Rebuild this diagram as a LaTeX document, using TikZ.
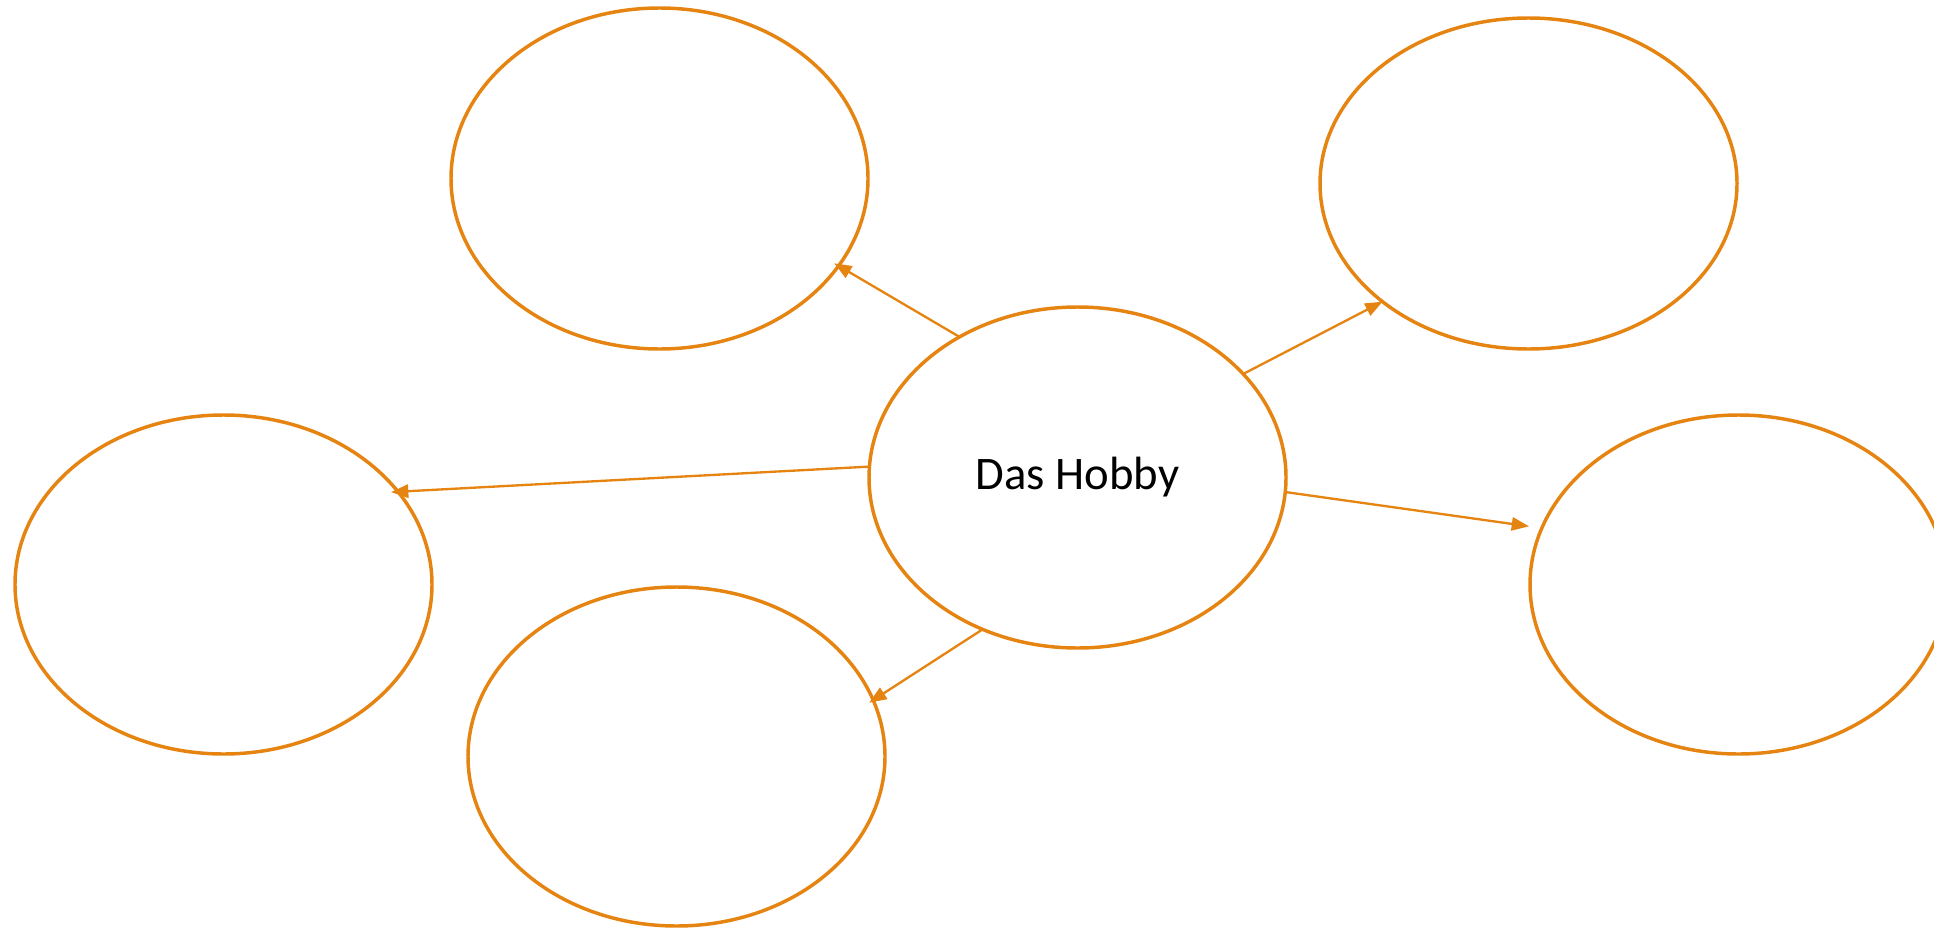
\documentclass[tikz,border=0pt]{standalone}
\usepackage{fontspec}
\setmainfont{Carlito}
\usepackage{xcolor}
\usepackage{tikz}
\usetikzlibrary{shapes.geometric,arrows.meta}
\definecolor{hobbyorange}{RGB}{230,132,18}
\tikzset{
  bubble/.style={ellipse,draw=hobbyorange,line width=2.6pt,inner sep=0pt,outer sep=0pt,
    minimum width=312.75pt,minimum height=255.75pt},
  link/.style={draw=hobbyorange,line width=1.75pt,-{Triangle[length=13pt,width=10pt]}}
}

\begin{document}
\begin{tikzpicture}[x=0.75pt,y=0.75pt,yscale=-1,xscale=1]
\useasboundingbox (0,0) rectangle (1934,928);

%Shape: Ellipse [hub]
\node[bubble,font=\fontsize{35pt}{42pt}\selectfont] (hub) at (1077.5,477.5) {Das Hobby};
%Shape: Ellipse [top left]
\node[bubble] (topleft) at (659.5,178.5) {};
%Shape: Ellipse [top right]
\node[bubble,minimum height=248.25pt] (topright) at (1528.5,183.5) {};
%Shape: Ellipse [left]
\node[bubble,minimum height=254.25pt] (left) at (223.5,584.5) {};
%Shape: Ellipse [bottom]
\node[bubble,minimum height=254.25pt] (bottom) at (676.5,756.5) {};
%Shape: Ellipse [right]
\node[bubble,minimum height=254.25pt] (right) at (1738.5,584.5) {};

%Straight Lines
\draw[link,shorten >=-3.75pt] (hub.130.7) -- (topleft.-26.5);
%Straight Lines
\draw[link] (hub.32.8) -- (topright.219);
%Straight Lines
\draw[link,shorten >=-5.25pt] (hub.177.4) -- (left.28.5);
%Straight Lines
\draw[link,shorten >=9.75pt] (hub.-4.5) -- (right.164.7);
%Straight Lines
\draw[link,shorten >=-3.5pt] (hub.238.4) -- (bottom.16.4);

\end{tikzpicture}
\end{document}
